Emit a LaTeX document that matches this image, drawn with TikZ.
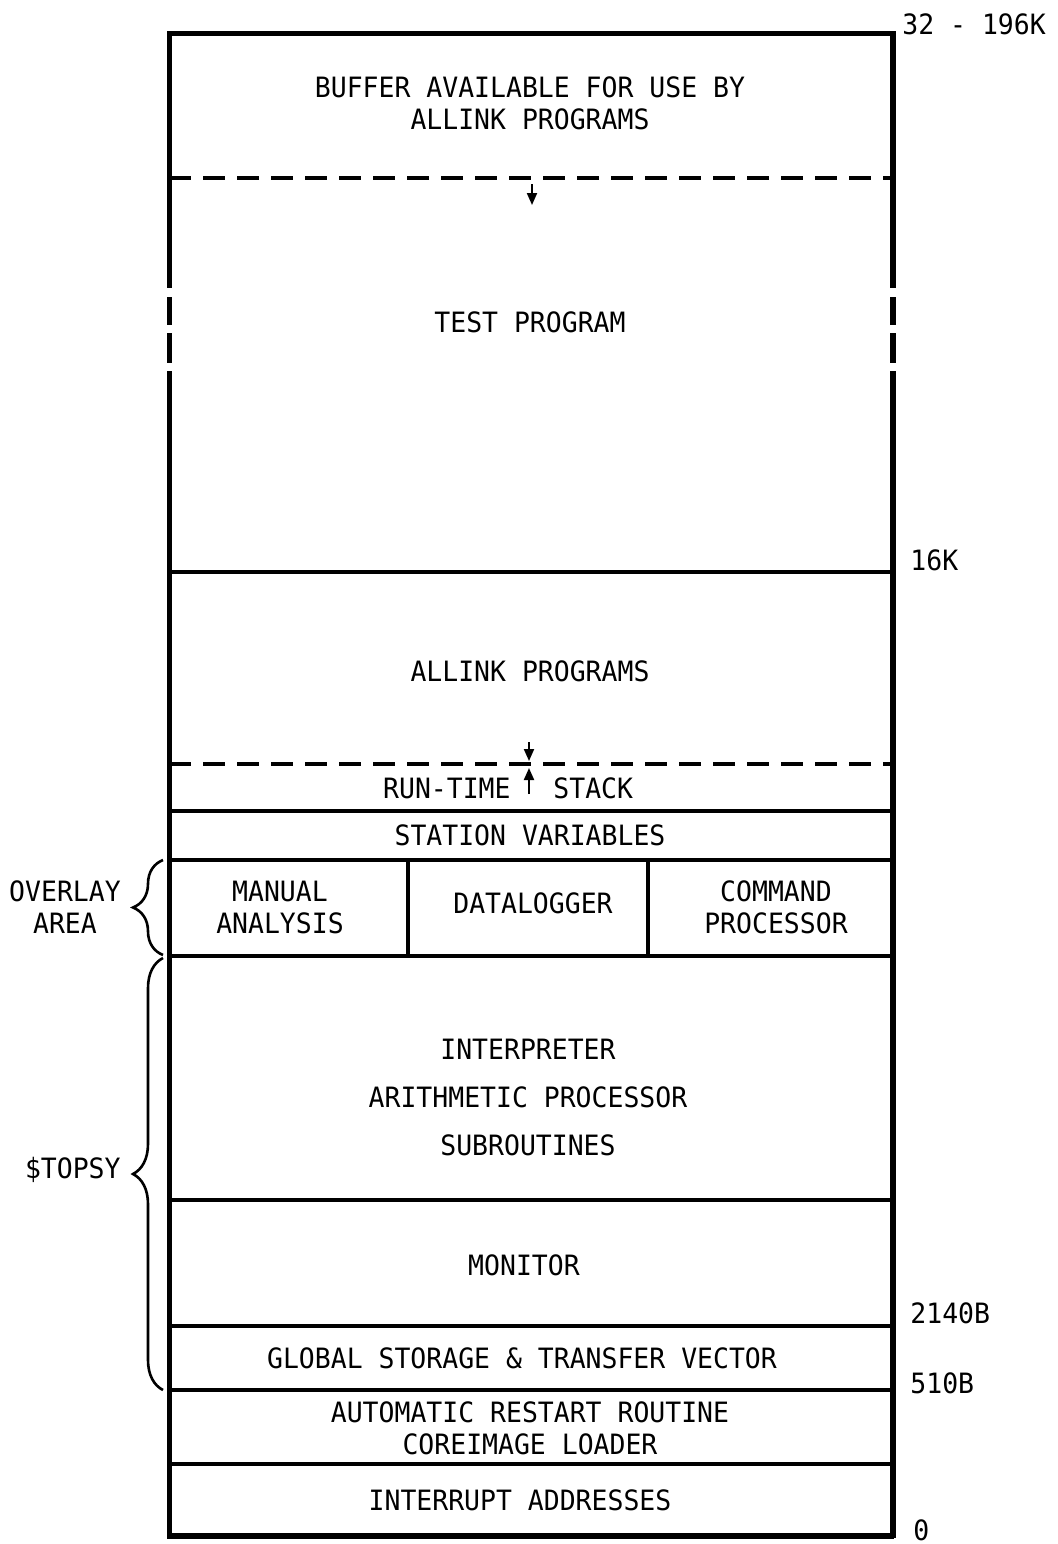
\documentclass[tikz,border=0pt]{standalone}
\usepackage{fontspec}
\newfontfamily\memfont[FakeStretch=0.945]{DejaVu Sans Mono}
\usetikzlibrary{arrows.meta,decorations.pathreplacing}
\begin{document}
\begin{tikzpicture}[x=0.5pt,y=-0.5pt,
  lbl/.style={font=\memfont\fontsize{14}{16}\selectfont, inner sep=0pt, align=center},
  outerl/.style={line width=2.5pt},
  outerr/.style={line width=3.2pt},
  inner/.style={line width=1.9pt},
  dsh/.style={line width=1.8pt, dash pattern=on 11pt off 6pt},
  arr/.style={line width=1pt, -{Triangle[length=6pt,width=5pt]}},
  brc/.style={decorate, decoration={brace,amplitude=15pt}, line width=1.3pt}]
\useasboundingbox (0,0) rectangle (1058,1544);

% outer box
\draw[outerl] (168,33) -- (893,33);
\draw[line width=3.4pt] (167,1536) -- (894,1536);
\foreach \xx/\st in {169/outerl,893/outerr}{
  \draw[\st] (\xx,31) -- (\xx,288);
  \draw[\st] (\xx,297) -- (\xx,325);
  \draw[\st] (\xx,333) -- (\xx,363);
  \draw[\st] (\xx,371) -- (\xx,1538);
}

% horizontal dividers
\draw[dsh] (169,178) -- (893,178);
\draw[inner] (169,572) -- (893,572);
\draw[dsh] (169,764) -- (893,764);
\draw[line width=2.3pt] (169,811) -- (893,811);
\draw[inner] (169,860) -- (893,860);
\draw[inner] (169,956) -- (893,956);
\draw[inner] (408,860) -- (408,956);
\draw[inner] (648,860) -- (648,956);
\draw[inner] (169,1200) -- (893,1200);
\draw[inner] (169,1326) -- (893,1326);
\draw[inner] (169,1390) -- (893,1390);
\draw[inner] (169,1464) -- (893,1464);

% arrows
\coordinate (a1s) at (532,184);
\coordinate (a1e) at (532,205);
\draw[arr] (a1s) -- (a1e);
\coordinate (a2s) at (529,742);
\coordinate (a2e) at (529,761);
\draw[arr] (a2s) -- (a2e);
\coordinate (a3s) at (529,794);
\coordinate (a3e) at (529,768);
\draw[arr] (a3s) -- (a3e);

% texts in boxes
\node[lbl] (buffer) at (530,103) {BUFFER AVAILABLE FOR USE BY\\[0pt]ALLINK PROGRAMS};
\node[lbl] (test) at (530,322) {TEST PROGRAM};
\node[lbl] (allink) at (530,671) {ALLINK PROGRAMS};
\node[lbl, anchor=east] (runtime) at (511,788) {RUN-TIME};
\node[lbl, anchor=west] (stack) at (553,788) {STACK};
\node[lbl] (station) at (530,835) {STATION VARIABLES};
\node[lbl] (manual) at (280,907) {MANUAL\\ANALYSIS};
\node[lbl] (datalog) at (533,903) {DATALOGGER};
\node[lbl] (command) at (776,907) {COMMAND\\PROCESSOR};
\node[lbl] (interp) at (528,1097) {INTERPRETER\\[8pt]ARITHMETIC PROCESSOR\\[8pt]SUBROUTINES};
\node[lbl] (monitor) at (524,1265) {MONITOR};
\node[lbl] (global) at (522,1358) {GLOBAL STORAGE \& TRANSFER VECTOR};
\node[lbl] (restart) at (530,1428) {AUTOMATIC RESTART ROUTINE\\COREIMAGE LOADER};
\node[lbl] (interrupt) at (520,1500) {INTERRUPT ADDRESSES};

% address labels
\node[lbl, anchor=west] (a196) at (902,24) {32 - 196K};
\node[lbl, anchor=west] (a16) at (910,560) {16K};
\node[lbl, anchor=west] (a2140) at (910,1313) {2140B};
\node[lbl, anchor=west] (a510) at (910,1383) {510B};
\node[lbl, anchor=west] (a0) at (913,1530) {0};

% braces
\draw[brc] (163,955) -- (163,860);
\draw[brc] (163,1390) -- (163,958);
\node[lbl] (overlay) at (65,907) {OVERLAY\\AREA};
\node[lbl, anchor=east] (topsy) at (121,1170) {\$TOPSY};
\end{tikzpicture}
\end{document}
